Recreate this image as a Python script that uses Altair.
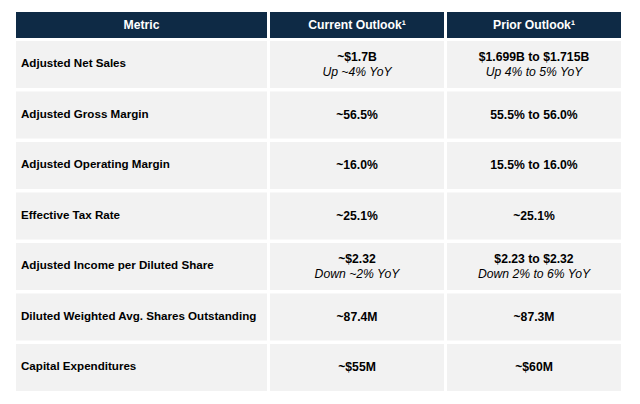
import altair as alt
import pandas as pd

metrics = [
    "Adjusted Net Sales",
    "Adjusted Gross Margin",
    "Adjusted Operating Margin",
    "Effective Tax Rate",
    "Adjusted Income per Diluted Share",
    "Diluted Weighted Avg. Shares Outstanding",
    "Capital Expenditures",
]
current_main = ["~$1.7B", "~56.5%", "~16.0%", "~25.1%", "~$2.32", "~87.4M", "~$55M"]
current_sub = ["Up ~4% YoY", "", "", "", "Down ~2% YoY", "", ""]
prior_main = ["$1.699B to $1.715B", "55.5% to 56.0%", "15.5% to 16.0%", "~25.1%",
              "$2.23 to $2.32", "~87.3M", "~$60M"]
prior_sub = ["Up 4% to 5% YoY", "", "", "", "Down 2% to 6% YoY", "", ""]
headers = ["Metric", "Current Outlook\u00b9", "Prior Outlook\u00b9"]

FONT = "Liberation Sans, Arial, sans-serif"
NAVY = "#0e2a45"
GRAY = "#f2f2f2"

# layout (chart pixels): column edges
col_x0 = [8, 262, 439]
col_x1 = [259, 436, 613]
row_h = 0.93

cells = []
for c in range(3):
    cells.append(dict(x0=col_x0[c], x1=col_x1[c], y0=-0.574, y1=-0.059, kind="h"))
    for i in range(len(metrics)):
        cells.append(dict(x0=col_x0[c], x1=col_x1[c], y0=i, y1=i + row_h, kind="c"))
cells_df = pd.DataFrame(cells)

head_df = pd.DataFrame({
    "t": headers,
    "x": [(col_x0[c] + col_x1[c]) / 2 for c in range(3)],
    "y": [-0.3165] * 3,
})

metric_df = pd.DataFrame({
    "t": metrics,
    "x": [col_x0[0] + 5] * len(metrics),
    "y": [i + row_h / 2 for i in range(len(metrics))],
})

main_rows, sub_rows = [], []
for c, (mains, subs) in enumerate([(current_main, current_sub), (prior_main, prior_sub)], start=1):
    xc = (col_x0[c] + col_x1[c]) / 2
    for i, (m, s) in enumerate(zip(mains, subs)):
        if s:
            main_rows.append(dict(t=m, x=xc, y=i + row_h / 2 - 0.14))
            sub_rows.append(dict(t=s, x=xc, y=i + row_h / 2 + 0.15))
        else:
            main_rows.append(dict(t=m, x=xc, y=i + row_h / 2))
main_df = pd.DataFrame(main_rows)
sub_df = pd.DataFrame(sub_rows)

xs = alt.Scale(domain=[0, 624], nice=False, zero=False)
ys = alt.Scale(domain=[-0.653, 7.069], reverse=True, nice=False, zero=False)

rects = alt.Chart(cells_df).mark_rect().encode(
    x=alt.X("x0:Q", scale=xs, axis=None),
    x2="x1:Q",
    y=alt.Y("y0:Q", scale=ys, axis=None),
    y2="y1:Q",
    color=alt.Color("kind:N", scale=alt.Scale(domain=["h", "c"], range=[NAVY, GRAY]), legend=None),
)

def txt(df, color="#000000", align="center", italic=False, bold=True, size=12):
    kw = dict(font=FONT, fontSize=size, color=color, align=align, baseline="middle",
              fontWeight="bold" if bold else "normal")
    if italic:
        kw["fontStyle"] = "italic"
    return alt.Chart(df).mark_text(**kw).encode(
        x=alt.X("x:Q", scale=xs, axis=None),
        y=alt.Y("y:Q", scale=ys, axis=None),
        text="t:N",
    )

chart = alt.layer(
    rects,
    txt(head_df, color="#ffffff", size=12.2),
    txt(metric_df, align="left", size=11.6),
    txt(main_df, size=12.2),
    txt(sub_df, italic=True, bold=False, size=12.2),
).properties(width=624, height=390, padding=0, autosize="none",
             background="#ffffff").configure_view(stroke=None)

chart.save("out.html", embed_options={"renderer": "svg", "actions": False})
